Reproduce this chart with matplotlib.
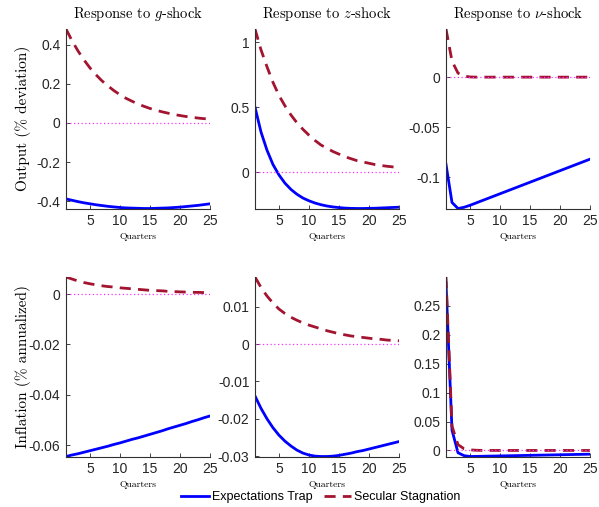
import matplotlib
matplotlib.use('Agg')
import matplotlib.pyplot as plt
from matplotlib.ticker import FormatStrFormatter

plt.rcParams['font.family'] = ['Liberation Sans', 'DejaVu Sans']
plt.rcParams['mathtext.fontset'] = 'cm'
plt.rcParams['axes.unicode_minus'] = False

quarters = list(range(1, 26))

# output responses
out_g_trap = [-0.388, -0.395, -0.402, -0.408, -0.413, -0.418, -0.422, -0.426, -0.429, -0.432,
              -0.434, -0.435, -0.436, -0.437, -0.437, -0.436, -0.435, -0.434, -0.432, -0.430,
              -0.427, -0.424, -0.421, -0.417, -0.413]
out_g_secular = [0.480, 0.420, 0.368, 0.322, 0.281, 0.246, 0.215, 0.189, 0.165, 0.144,
                 0.126, 0.111, 0.097, 0.085, 0.074, 0.065, 0.057, 0.050, 0.043, 0.038,
                 0.033, 0.029, 0.025, 0.022, 0.020]
out_z_trap = [0.50, 0.31, 0.17, 0.06, -0.02, -0.083, -0.131, -0.168, -0.197, -0.218,
              -0.235, -0.248, -0.258, -0.265, -0.270, -0.274, -0.276, -0.277, -0.277, -0.276,
              -0.275, -0.273, -0.271, -0.269, -0.267]
out_z_secular = [1.10, 0.94, 0.81, 0.69, 0.59, 0.51, 0.44, 0.38, 0.33, 0.285,
                 0.245, 0.21, 0.185, 0.16, 0.14, 0.12, 0.105, 0.09, 0.08, 0.07,
                 0.06, 0.053, 0.047, 0.042, 0.037]
out_nu_trap = [-0.087, -0.125, -0.131, -0.1298, -0.1278, -0.1255, -0.1232, -0.1209, -0.1186, -0.1163,
               -0.1140, -0.1117, -0.1094, -0.1071, -0.1048, -0.1025, -0.1002, -0.0979, -0.0956, -0.0933,
               -0.0910, -0.0887, -0.0864, -0.0841, -0.0818]
out_nu_secular = [0.048, 0.016, 0.004, 0.001, 0.0002, 0, 0, 0, 0, 0,
                  0, 0, 0, 0, 0, 0, 0, 0, 0, 0,
                  0, 0, 0, 0, 0]

# inflation responses
inf_g_trap = [-0.0645, -0.0639, -0.0634, -0.0628, -0.0622, -0.0616, -0.0610, -0.0604, -0.0597, -0.0591,
              -0.0584, -0.0577, -0.0571, -0.0564, -0.0557, -0.0550, -0.0543, -0.0535, -0.0528, -0.0521,
              -0.0514, -0.0506, -0.0499, -0.0491, -0.0484]
inf_g_secular = [0.0068, 0.0060, 0.0052, 0.0046, 0.0041, 0.0037, 0.0033, 0.0030, 0.0028, 0.0025,
                 0.0023, 0.0021, 0.0019, 0.0017, 0.0015, 0.0014, 0.0013, 0.0011, 0.0010, 0.0009,
                 0.0008, 0.0007, 0.0007, 0.0006, 0.0005]
inf_z_trap = [-0.0139, -0.0172, -0.0200, -0.0224, -0.0244, -0.0260, -0.0273, -0.0284, -0.0292, -0.0297,
              -0.0300, -0.0301, -0.0301, -0.0300, -0.0298, -0.0295, -0.0292, -0.0288, -0.0285, -0.0281,
              -0.0277, -0.0273, -0.0269, -0.0265, -0.0261]
inf_z_secular = [0.0180, 0.0152, 0.0129, 0.0110, 0.0094, 0.0082, 0.0072, 0.0064, 0.0057, 0.0051,
                 0.0046, 0.0041, 0.0036, 0.0032, 0.0028, 0.0025, 0.0022, 0.0020, 0.0018, 0.0016,
                 0.0014, 0.0013, 0.0011, 0.0010, 0.0009]
inf_nu_trap = [0.290, 0.035, -0.004, -0.009, -0.0105, -0.0103, -0.0101, -0.0099, -0.0097, -0.0095,
               -0.0093, -0.0091, -0.0089, -0.0087, -0.0085, -0.0083, -0.0081, -0.0079, -0.0077, -0.0075,
               -0.0073, -0.0071, -0.0069, -0.0067, -0.0065]
inf_nu_secular = [0.300, 0.042, 0.010, 0.003, 0.001, 0.0003, 0.0001, 0, 0, 0,
                  0, 0, 0, 0, 0, 0, 0, 0, 0, 0,
                  0, 0, 0, 0, 0]

titles = ['Response to $g$-shock', 'Response to $z$-shock', r'Response to $\nu$-shock']
row_labels = ['Output (% deviation)', 'Inflation (% annualized)']
yticks = [[-0.4, -0.2, 0, 0.2, 0.4], [0, 0.5, 1], [-0.1, -0.05, 0],
          [-0.06, -0.04, -0.02, 0], [-0.03, -0.02, -0.01, 0, 0.01], [0, 0.05, 0.1, 0.15, 0.2, 0.25]]
panels = [(out_g_trap, out_g_secular), (out_z_trap, out_z_secular), (out_nu_trap, out_nu_secular),
          (inf_g_trap, inf_g_secular), (inf_z_trap, inf_z_secular), (inf_nu_trap, inf_nu_secular)]

blue = '#0000ff'
red = '#a2142f'
spine_col = '#303030'
serif = 'cmr10'

fig = plt.figure(figsize=(5.99, 5.07), dpi=100)
W, H = 599.0, 507.0
lefts = [66, 255, 446]
width = 144
tops = [29, 277]
height = 179.5

for i, (trap, sec) in enumerate(panels):
    r, c = divmod(i, 3)
    ax = fig.add_axes([lefts[c] / W, 1 - (tops[r] + height) / H, width / W, height / H])
    ax.plot(quarters, trap, color=blue, lw=2.0, label='Expectations Trap')
    ax.plot(quarters, sec, color=red, lw=2.0, dashes=(4, 2.6), label='Secular Stagnation')
    ax.plot([1, 25], [0, 0], color='#ff33ff', lw=0.9, ls=(0, (1, 2)))
    ax.set_xlim(1, 25)
    ax.set_ylim(min(trap + sec), max(trap + sec))
    ax.set_xticks([5, 10, 15, 20, 25])
    ax.set_yticks(yticks[i])
    ax.yaxis.set_major_formatter(FormatStrFormatter('%g'))
    ax.tick_params(direction='in', length=3, width=0.6, labelsize=10, colors='#262626', pad=4)
    for s in ['top', 'right']:
        ax.spines[s].set_visible(False)
    for s in ['left', 'bottom']:
        ax.spines[s].set_color(spine_col)
        ax.spines[s].set_linewidth(0.8)
    ax.set_xlabel('Quarters', fontfamily=serif, fontsize=7, labelpad=3)
    if r == 0:
        ax.set_title(titles[c], fontfamily=serif, fontsize=10.5, pad=8)
    if c == 0:
        ax.set_ylabel(row_labels[r], fontfamily=serif, fontsize=11)
        ax.yaxis.set_label_coords(-0.24, 0.5)
    if i == 0:
        handles, labels = ax.get_legend_handles_labels()

fig.legend(handles[:2], labels[:2], loc='center', bbox_to_anchor=(0.536, 1 - 497 / H), ncol=2,
           frameon=False, fontsize=9, handlelength=2.2, columnspacing=0.9, handletextpad=0.25)

fig.savefig('out.png', dpi=100)
